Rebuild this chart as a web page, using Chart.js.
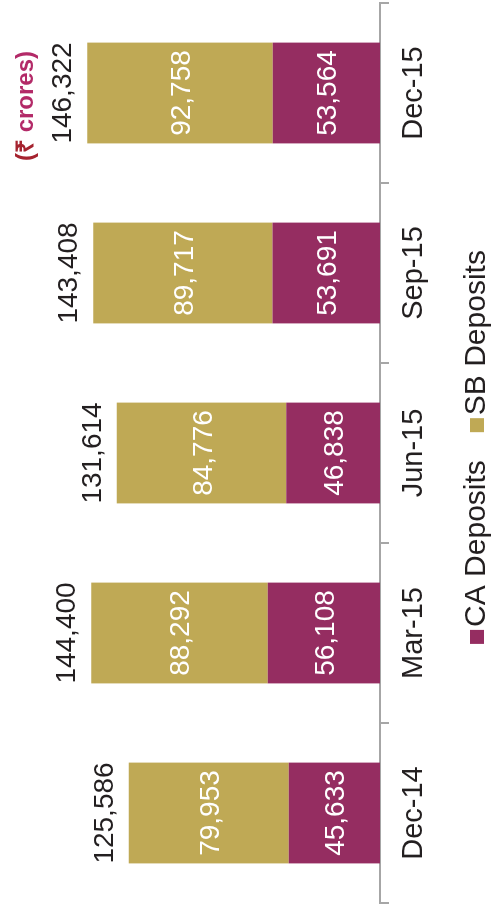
<!DOCTYPE html>
<html>
<head>
<meta charset="utf-8">
<script src="https://cdn.jsdelivr.net/npm/chart.js@4.4.0/dist/chart.umd.min.js"></script>
<style>
  html, body { margin: 0; padding: 0; background: #fff; overflow: hidden; }
  /* the chart is drawn upright and then turned a quarter left */
  #wrap {
    position: absolute; left: 0; top: 0;
    width: 913px; height: 493px;
    transform-origin: 0 0;
    transform: translate(0, 913px) rotate(-90deg);
  }
</style>
</head>
<body>
<div id="wrap"><canvas id="depositsChart" width="913" height="493"></canvas></div>
<script>
// Datos del gráfico
const categories = ['Dec-14', 'Mar-15', 'Jun-15', 'Sep-15', 'Dec-15'];
const caDeposits = [45633, 56108, 46838, 53691, 53564];
const sbDeposits = [79953, 88292, 84776, 89717, 92758];
const seriesNames = ['CA Deposits', 'SB Deposits'];
const unitLabel = ['(₹ ', 'crores)'];

const CA_COLOR = '#952D61';
const SB_COLOR = '#BFA955';
const TEXT_COLOR = '#231F20';
const AXIS_COLOR = '#A6A6A6';
const FONT = "'Liberation Sans', Arial, sans-serif";

const totals = categories.map((_, i) => caDeposits[i] + sbDeposits[i]);
const fmt = v => v.toLocaleString('en-US');

// Etiquetas de valores, totales, unidad y leyenda
const labelsPlugin = {
    id: 'labelsPlugin',
    afterDatasetsDraw(chart) {
        const ctx = chart.ctx;
        ctx.save();
        ctx.textAlign = 'center';
        ctx.textBaseline = 'alphabetic';
        ctx.font = '28px ' + FONT;
        chart.data.datasets.forEach((ds, di) => {
            chart.getDatasetMeta(di).data.forEach((bar, i) => {
                const mid = (bar.y + bar.base) / 2;
                ctx.fillStyle = '#FFFFFF';
                ctx.fillText(fmt(ds.data[i]), bar.x, mid + 10);
            });
        });
        const topMeta = chart.getDatasetMeta(chart.data.datasets.length - 1);
        topMeta.data.forEach((bar, i) => {
            ctx.fillStyle = TEXT_COLOR;
            ctx.fillText(fmt(totals[i]), bar.x, bar.y - 16);
        });

        // (₹ crores)
        const xs = chart.scales.x;
        const cx = xs.getPixelForValue(categories.length - 1) - 13;
        ctx.font = 'bold 24px ' + FONT;
        ctx.textAlign = 'left';
        const w1 = ctx.measureText(unitLabel[0]).width;
        const w2 = ctx.measureText(unitLabel[1]).width;
        let ux = cx - (w1 + w2) / 2;
        ctx.fillStyle = '#A5232F';
        ctx.fillText(unitLabel[0], ux, 33);
        ctx.fillStyle = '#B32A68';
        ctx.fillText(unitLabel[1], ux + w1, 33);

        // Leyenda
        ctx.font = '30px ' + FONT;
        const box = 14, gapText = 3, gapItem = 28;
        const widths = seriesNames.map(n => ctx.measureText(n).width);
        const total = widths.reduce((a, b) => a + b, 0) + seriesNames.length * (box + gapText) + gapItem;
        const area = chart.chartArea;
        let lx = (area.left + area.right) / 2 + 6 - total / 2;
        const colors = [CA_COLOR, SB_COLOR];
        seriesNames.forEach((n, i) => {
            ctx.fillStyle = colors[i];
            ctx.fillRect(lx, 470, box, box);
            lx += box + gapText;
            ctx.fillStyle = TEXT_COLOR;
            ctx.fillText(n, lx, 485);
            lx += widths[i] + gapItem;
        });
        ctx.restore();
    }
};

document.addEventListener('DOMContentLoaded', function() {
    const ctx = document.getElementById('depositsChart').getContext('2d');
    new Chart(ctx, {
        type: 'bar',
        data: {
            labels: categories,
            datasets: [{
                label: seriesNames[0],
                data: caDeposits,
                backgroundColor: CA_COLOR,
                borderWidth: 0
            }, {
                label: seriesNames[1],
                data: sbDeposits,
                backgroundColor: SB_COLOR,
                borderWidth: 0
            }]
        },
        options: {
            responsive: false,
            animation: false,
            devicePixelRatio: 1,
            layout: { padding: { left: 10, right: 3, top: 0, bottom: 0 } },
            datasets: { bar: { categoryPercentage: 1, barPercentage: 0.56 } },
            plugins: {
                legend: { display: false },
                tooltip: { enabled: false }
            },
            scales: {
                x: {
                    stacked: true,
                    offset: true,
                    grid: {
                        display: true,
                        offset: true,
                        drawOnChartArea: false,
                        drawTicks: true,
                        tickLength: 9,
                        color: AXIS_COLOR,
                        lineWidth: 2
                    },
                    border: { display: true, color: AXIS_COLOR, width: 2 },
                    ticks: {
                        color: TEXT_COLOR,
                        font: { family: FONT, size: 29 },
                        padding: 8,
                        maxRotation: 0,
                        autoSkip: false
                    },
                    afterFit(scale) { scale.height = 113; }
                },
                y: {
                    stacked: true,
                    display: false,
                    min: 0,
                    max: 190000
                }
            }
        },
        plugins: [labelsPlugin]
    });
});
</script>
</body>
</html>
